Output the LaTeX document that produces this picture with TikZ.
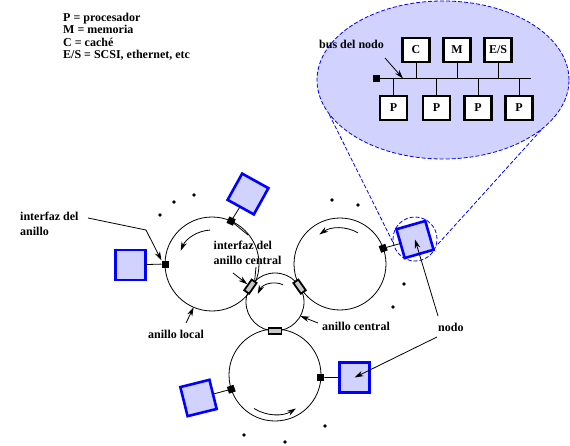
\documentclass[tikz,border=0pt]{standalone}
\usepackage{fontspec}
\setmainfont{Liberation Serif}
\usetikzlibrary{shapes.geometric,arrows.meta}
\definecolor{lav}{RGB}{210,210,255}
\definecolor{bblue}{RGB}{0,0,255}
\definecolor{gbox}{RGB}{200,200,200}
\begin{document}
\begin{tikzpicture}[x=1pt,y=1pt,
 every node/.style={font=\fontsize{12}{15}\selectfont\bfseries},
 ring/.style={draw, circle, line width=0.8pt, inner sep=0pt, outer sep=0pt},
 bluebox/.style={draw=bblue, fill=lav, line width=2.6pt, minimum size=30pt, inner sep=0pt, outer sep=0pt},
 wbox/.style={draw, fill=white, line width=2.2pt, minimum width=27pt, minimum height=24pt, inner sep=0pt},
 iface/.style={fill=black, minimum size=7pt, inner sep=0pt, outer sep=0pt},
 graybox/.style={draw, fill=gbox, line width=1.8pt, minimum width=13pt, minimum height=6pt, inner sep=0pt},
 thinline/.style={line width=0.8pt},
 leader/.style={line width=0.8pt, -{Stealth[length=9pt,width=5.5pt]}},
 zoomline/.style={draw=bblue, line width=0.8pt, dash pattern=on 4pt off 2pt},
 blackdot/.style={fill=black, circle, minimum size=3.6pt, inner sep=0pt},
 lbl/.style={anchor=base west, align=left, inner sep=0pt}
]
\useasboundingbox (0,0) rectangle (570,445);

% legend (base anchor = last line baseline)
\node[lbl, font=\fontsize{12}{12.5}\selectfont\bfseries] (legend) at (63,386)
  {P = procesador\\M = memoria\\C = caché\\E/S = SCSI, ethernet, etc};

% zoomed node
\node[ellipse, fill=lav, zoomline, minimum width=252pt, minimum height=158pt, inner sep=0pt] (zoomE) at (443,365) {};
\node[iface] (busSq) at (376,366) {};
\coordinate (busEnd) at (531,366);
\draw[line width=1pt] (busSq) -- (busEnd);
\node[wbox] (mC) at (416,395) {C};
\node[wbox] (mM) at (457,395) {M};
\node[wbox] (mES) at (498,395) {E/S};
\node[wbox] (p1) at (393.5,337) {P};
\node[wbox] (p2) at (436.5,337) {P};
\node[wbox] (p3) at (478,337) {P};
\node[wbox] (p4) at (519,337) {P};
\foreach \n in {mC,mM,mES}{\draw[thinline] (\n.south) -- (\n.south |- busEnd);}
\foreach \n in {p1,p2,p3,p4}{\draw[thinline] (\n.north) -- (\n.north |- busEnd);}
\node[lbl] (busLbl) at (319,396) {bus del nodo};
\coordinate (busArrS) at (385,387);
\coordinate (busArrE) at (403,366.5);
\draw[leader] (busArrS) -- (busArrE);

% zoom circle and tangents
\node[circle, zoomline, minimum size=44pt, inner sep=0pt] (zc) at (415,206) {};
\draw[zoomline] (zoomE.197) -- (zc.188);
\draw[zoomline] (zoomE.333) -- (zc.342);

% rings
\node[ring, minimum size=94pt] (L) at (212,181) {};
\node[ring, minimum size=92pt] (R) at (340,181) {};
\node[ring, minimum size=58pt] (C) at (275,143) {};
\node[ring, minimum size=92pt] (B) at (275,70) {};

% blue boxes
\node[bluebox] (bL) at (130.5,180) {};
\node[bluebox, rotate=-29] (bT) at (248,251) {};
\node[bluebox, rotate=16] (bR) at (415,205.5) {};
\node[bluebox, rotate=14] (bBL) at (198.5,47) {};
\node[bluebox] (bBR) at (354.5,67.5) {};

% ring interfaces
\node[iface] (iL) at (L.180) {};
\node[iface, rotate=66] (iT) at (L.66) {};
\node[iface, rotate=20] (iR) at (R.20) {};
\node[iface, rotate=18] (iBL) at (B.198) {};
\node[iface] (iBR) at (B.357) {};
\node[graybox, rotate=55] (gL) at (C.148) {};
\node[graybox, rotate=-55] (gR) at (C.32) {};
\node[graybox] (gB) at (C.270) {};

\draw[thinline] (iL) -- (bL);
\draw[thinline] (iT) -- (bT);
\draw[thinline] (iR) -- (bR);
\draw[thinline] (iBL) -- (bBL);
\draw[thinline] (iBR) -- (bBR);

% direction arrows
\draw[leader] ([shift={(93:34)}]L.center) arc[start angle=93, end angle=157, radius=34];
\draw[leader] ([shift={(60:36)}]R.center) arc[start angle=60, end angle=125, radius=36];
\draw[leader] ([shift={(65:19)}]C.center) arc[start angle=65, end angle=155, radius=19];
\draw[leader] ([shift={(238:39.5)}]B.center) arc[start angle=238, end angle=302, radius=39.5];

% dots
\foreach \x/\y [count=\i] in {160/230, 174/243, 194/250, 332/245, 358/240, 404/161, 393/138, 244/10, 285/3, 325/19}
  {\node[blackdot] (d\i) at (\x,\y) {};}

% labels
\node[lbl] (lblIA) at (20,210) {interfaz del\\anillo};
\coordinate (lIAa) at (88,227);
\coordinate (lIAb) at (146,215);
\draw[leader] (lIAa) -- (lIAb) -- (iL.north west);

\node[lbl] (lblIC) at (213.5,180.7) {interfaz del\\anillo central};
\coordinate (lICa) at (248,210);
\draw[thinline] (lICa) -- (iT);
\coordinate (lICb) at (256,178);
\draw[thinline] (lICb) -- (gL.east);
\coordinate (lICc) at (233,172);
\draw[leader] (lICc) -- (gL);

\node[lbl] (lblAL) at (148,107) {anillo local};
\coordinate (lALa) at (186,122);
\draw[leader] (lALa) -- (L.247);

\node[lbl] (lblAC) at (322,115) {anillo central};
\coordinate (lACa) at (318,122);
\draw[leader] (lACa) -- (C.331);

\node[lbl] (lblN) at (438,113.3) {nodo};
\coordinate (lNa) at (438,129);
\coordinate (lNb) at (437,108);
\draw[leader] (lNa) -- (bR.center);
\draw[leader] (lNb) -- (bBR.center);
\end{tikzpicture}
\end{document}
